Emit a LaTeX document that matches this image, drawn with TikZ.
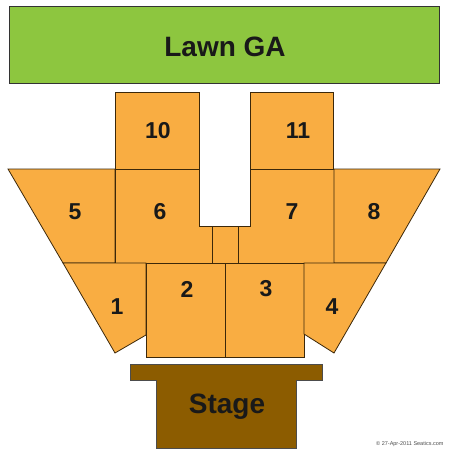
\documentclass[tikz,border=0pt]{standalone}
\usepackage{fontspec}
\setmainfont{Liberation Sans}
\usepackage{tikz}
\usetikzlibrary{positioning}
\definecolor{lawngreen}{RGB}{141,198,63}
\definecolor{seatorange}{RGB}{249,173,66}
\definecolor{stagebrown}{RGB}{140,92,0}
\definecolor{edgedark}{RGB}{60,40,10}

\begin{document}
\begin{tikzpicture}[
    x=1pt, y=-1pt,
    section/.style={fill=seatorange, draw=edgedark, line width=0.8pt, line join=miter},
    lawn/.style={fill=lawngreen, draw=black!80, line width=0.8pt},
    stagebox/.style={fill=stagebrown, draw=black!70, line width=0.8pt},
    seclabel/.style={font=\fontsize{23}{23}\selectfont\bfseries, text=black!90},
    biglabel/.style={font=\fontsize{28}{28}\selectfont\bfseries, text=black!90}
]
\useasboundingbox (0,0) rectangle (450,450);
% lawn
\draw[lawn] (9,6) rectangle (439,83);
\node[biglabel] (lawnga) at (225,47) {Lawn GA};
% upper sections
\draw[section] (115,92) rectangle (199,169);
\draw[section] (250,92) rectangle (333,169);
\node[seclabel] (s10) at (158,131) {10};
\node[seclabel] (s11) at (298,131) {11};
% middle row
\draw[section] (8,169) -- (115,169) -- (115,263) -- (63,263) -- cycle;
\draw[section] (115,169) -- (199,169) -- (199,226) -- (212,226) -- (212,263) -- (115,263) -- cycle;
\draw[section] (212,226) rectangle (238,263);
\draw[section] (250,169) -- (334,169) -- (334,263) -- (238,263) -- (238,226) -- (250,226) -- cycle;
\draw[section] (334,169) -- (440,169) -- (386,263) -- (334,263) -- cycle;
\node[seclabel] (s5) at (75,212) {5};
\node[seclabel] (s6) at (160,212) {6};
\node[seclabel] (s7) at (292,212) {7};
\node[seclabel] (s8) at (374,212) {8};
% front row
\draw[section] (63,263) -- (146,263) -- (146,335) -- (115,353) -- cycle;
\draw[section] (146,263) rectangle (225,357);
\draw[section] (225,263) rectangle (304,357);
\draw[section] (304,263) -- (386,263) -- (334,353) -- (304,334) -- cycle;
\node[seclabel] (s1) at (117,307) {1};
\node[seclabel] (s2) at (187,289) {2};
\node[seclabel] (s3) at (266,289) {3};
\node[seclabel] (s4) at (332,307) {4};
% stage
\draw[stagebox] (130,364) -- (322,364) -- (322,380) -- (296,380) -- (296,448)
    -- (156,448) -- (156,380) -- (130,380) -- cycle;
\node[biglabel] (stage) at (227,407) {Stage};
\node[font=\fontsize{5.5}{6}\selectfont, text=black!70, anchor=east] (copy) at (447,444) {© 27-Apr-2011 Seatics.com};
\end{tikzpicture}
\end{document}
